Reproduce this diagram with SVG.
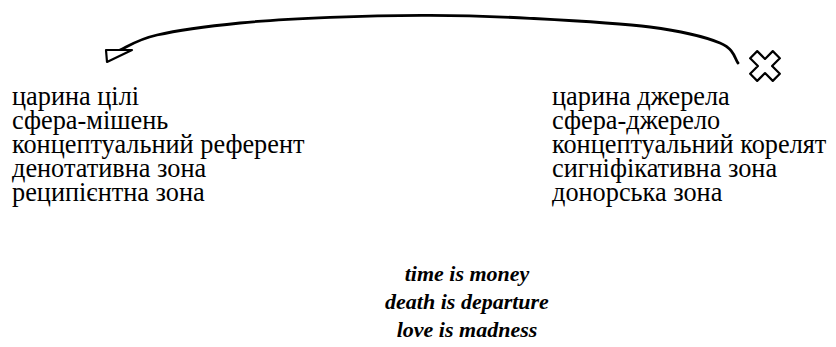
<svg xmlns="http://www.w3.org/2000/svg" width="836" height="347" viewBox="0 0 836 347">
  <style>
    .term { font-family: "Liberation Serif", "Times New Roman", serif; font-size: 26.3px; fill: #000; }
    .example { font-family: "Liberation Serif", "Times New Roman", serif; font-size: 22px; font-weight: bold; font-style: italic; fill: #000; text-anchor: middle; }
    .curve { fill: none; stroke: #000; stroke-width: 2.8; stroke-linecap: round; }
    .mark { fill: #fff; stroke: #000; stroke-width: 2.2; stroke-linejoin: round; }
  </style>

  <!-- mapping connector: from the source domain (right) back to the target domain (left) -->
  <g id="connectors">
    <path class="curve" d="M738,63 C735,59.7 734.7,49 720,43 C705.3,37 681.7,31.1 650,27 C618.3,22.9 566.7,20.25 530,18.3 C493.3,16.35 463.3,15.47 430,15.3 C396.7,15.13 361.7,16 330,17.3 C298.3,18.6 268.8,20.05 240,23 C211.2,25.95 177,30.5 157,35 C137,39.5 126.2,47.5 120,50"/>
    <polygon class="mark" points="106,50 107,62 132,50"/>
    <polygon class="mark" transform="translate(765,66) rotate(45)" points="-5,-16 5,-16 5,-5 16,-5 16,5 5,5 5,16 -5,16 -5,5 -16,5 -16,-5 -5,-5"/>
  </g>

  <!-- target domain terms -->
  <g id="target-domain">
    <text class="term" x="12" y="105">царина цілі</text>
    <text class="term" x="12" y="129">сфера-мішень</text>
    <text class="term" x="12" y="153">концептуальний референт</text>
    <text class="term" x="12" y="177">денотативна зона</text>
    <text class="term" x="12" y="201">реципієнтна зона</text>
  </g>

  <!-- source domain terms -->
  <g id="source-domain">
    <text class="term" x="552" y="105">царина джерела</text>
    <text class="term" x="552" y="129">сфера-джерело</text>
    <text class="term" x="552" y="153">концептуальний корелят</text>
    <text class="term" x="552" y="177">сигніфікативна зона</text>
    <text class="term" x="552" y="201">донорська зона</text>
  </g>

  <!-- sample metaphors -->
  <g id="examples">
    <text class="example" x="467" y="281">time is money</text>
    <text class="example" x="467" y="309">death is departure</text>
    <text class="example" x="467" y="337">love is madness</text>
  </g>
</svg>
